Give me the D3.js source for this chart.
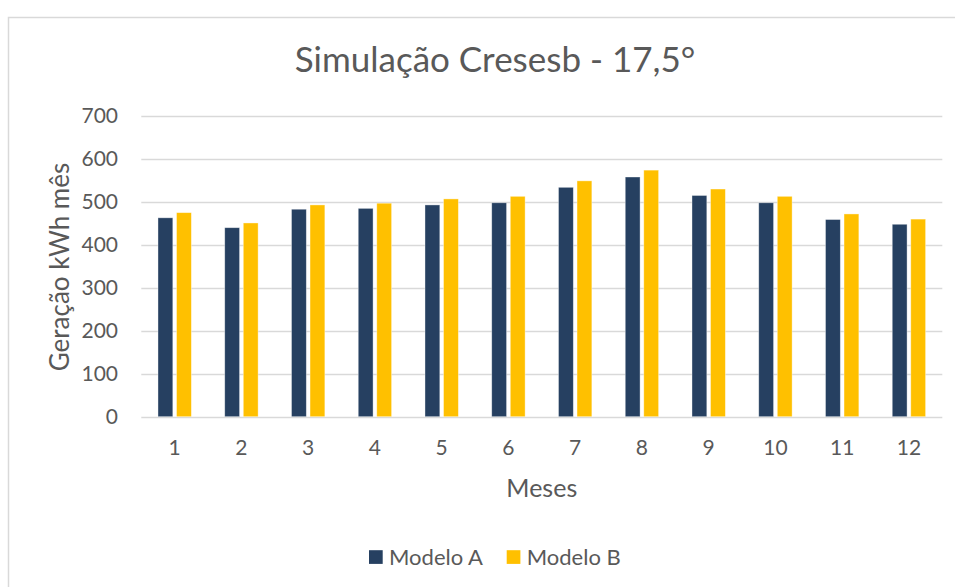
<!DOCTYPE html>
<html>
<head>
<meta charset="utf-8">
<script src="https://cdn.jsdelivr.net/npm/d3@7"></script>
<style>
  body { margin: 0; background: #fff; }
  text { font-family: Lato, "Open Sans", sans-serif; fill: #595959; }
</style>
</head>
<body>
<svg width="955" height="587"></svg>
<script>
// chart data
var meses = ["1", "2", "3", "4", "5", "6", "7", "8", "9", "10", "11", "12"];
var series = ["Modelo A", "Modelo B"];
var modeloA = [463, 440, 483, 485, 493, 498, 534, 558, 515, 498, 459, 448];
var modeloB = [475, 451, 493, 497, 507, 513, 549, 574, 530, 513, 472, 460];
var yTicks = [0, 100, 200, 300, 400, 500, 600, 700];
var colors = ["#264061", "#FFC000"];

var svg = d3.select("svg"),
  width = +svg.attr("width"),
  height = +svg.attr("height");

var plot = {left: 141.3, right: 942.3, top: 116, bottom: 416.7};

// chart frame (runs off the right / bottom edge)
svg.append("rect")
  .attr("x", 8.5).attr("y", 17.5)
  .attr("width", 960).attr("height", 600)
  .attr("fill", "#fff")
  .attr("stroke", "#d9d9d9")
  .attr("stroke-width", 1.5);

var x = d3.scaleBand()
  .domain(meses)
  .range([plot.left, plot.right])
  .padding(0);

var xInner = d3.scaleBand()
  .domain(series)
  .range([x.bandwidth() * 0.25, x.bandwidth() * 0.75])
  .paddingInner(0.2);

var y = d3.scaleLinear()
  .domain([0, 700])
  .range([plot.bottom, plot.top]);

// gridlines
svg.append("g")
  .selectAll("line")
  .data(yTicks)
  .enter()
  .append("line")
    .attr("x1", plot.left)
    .attr("x2", plot.right)
    .attr("y1", d => Math.round(y(d)) + 0.5)
    .attr("y2", d => Math.round(y(d)) + 0.5)
    .attr("stroke", "#d9d9d9")
    .attr("stroke-width", 1.5);

// y tick labels
svg.append("g")
  .selectAll("text")
  .data(yTicks)
  .enter()
  .append("text")
    .attr("x", 118)
    .attr("y", d => y(d))
    .attr("dy", "0.35em")
    .attr("text-anchor", "end")
    .attr("font-size", "21px")
    .text(d => d);

// bars
var rows = meses.map(function (m, i) {
  return {mes: m, values: [{s: series[0], v: modeloA[i]}, {s: series[1], v: modeloB[i]}]};
});

var groups = svg.append("g")
  .selectAll("g")
  .data(rows)
  .enter()
  .append("g")
    .attr("transform", d => "translate(" + x(d.mes) + ",0)");

groups.selectAll("rect")
  .data(d => d.values)
  .enter()
  .append("rect")
    .attr("x", d => xInner(d.s))
    .attr("y", d => y(d.v))
    .attr("width", xInner.bandwidth())
    .attr("height", d => y(0) - y(d.v))
    .attr("fill", (d, i) => colors[i])
    .attr("stroke", "#fff")
    .attr("stroke-opacity", 0.5)
    .attr("stroke-width", 0.75);

// x tick labels
svg.append("g")
  .selectAll("text")
  .data(meses)
  .enter()
  .append("text")
    .attr("x", d => x(d) + x.bandwidth() / 2)
    .attr("y", 448)
    .attr("dy", "0.35em")
    .attr("text-anchor", "middle")
    .attr("font-size", "21px")
    .text(d => d);

// titles
svg.append("text")
  .attr("x", 495)
  .attr("y", 72)
  .attr("text-anchor", "middle")
  .attr("font-size", "35px")
  .text("Simulação Cresesb - 17,5°");

svg.append("text")
  .attr("x", (plot.left + plot.right) / 2)
  .attr("y", 488)
  .attr("dy", "0.35em")
  .attr("text-anchor", "middle")
  .attr("font-size", "25px")
  .text("Meses");

svg.append("text")
  .attr("transform", "translate(60,267) rotate(-90)")
  .attr("dy", "0.35em")
  .attr("text-anchor", "middle")
  .attr("font-size", "26px")
  .text("Geração kWh mês");

// legend
var legendX = [369, 506.7];
var legend = svg.append("g")
  .selectAll("g")
  .data(series)
  .enter()
  .append("g")
    .attr("transform", (d, i) => "translate(" + legendX[i] + ",557)");

legend.append("rect")
  .attr("x", 0).attr("y", -6.8)
  .attr("width", 13.7).attr("height", 13.7)
  .attr("fill", (d, i) => colors[i]);

legend.append("text")
  .attr("x", 20)
  .attr("dy", "0.35em")
  .attr("font-size", "22px")
  .text(d => d);
</script>
</body>
</html>
